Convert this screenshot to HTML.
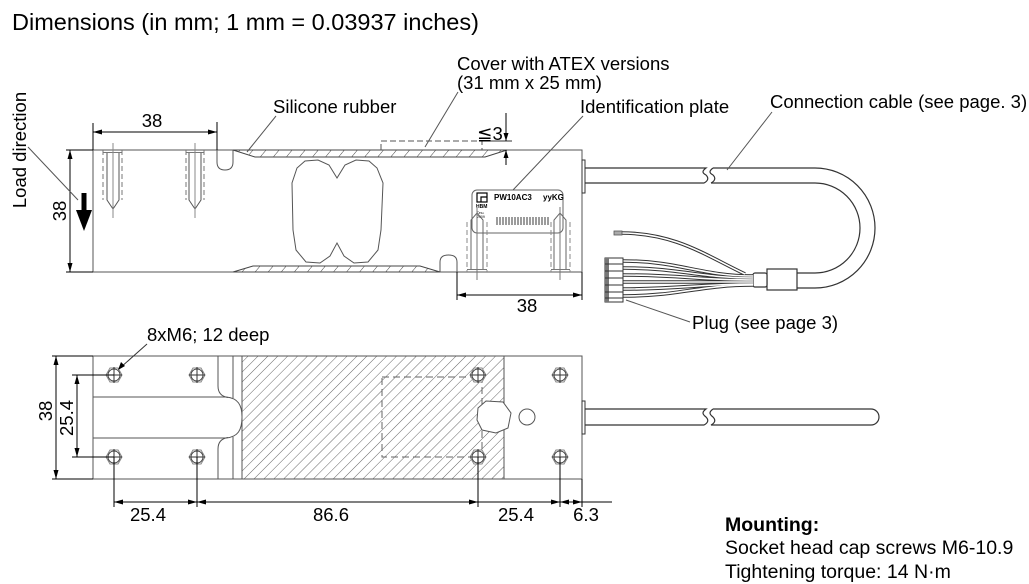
<!DOCTYPE html>
<html><head><meta charset="utf-8"><style>
html,body{margin:0;padding:0;background:#fff;}
svg{display:block;}
text{font-family:"Liberation Sans","DejaVu Sans",Arial,sans-serif;fill:#000;}
</style></head><body>
<svg width="1029" height="584" viewBox="0 0 1029 584" xmlns="http://www.w3.org/2000/svg">
<defs>
<pattern id="hb" width="7" height="7" patternUnits="userSpaceOnUse" patternTransform="rotate(45)"><line x1="0" y1="0" x2="0" y2="7" stroke="#666" stroke-width="1"/></pattern>
<pattern id="hs" width="10" height="10" patternUnits="userSpaceOnUse" patternTransform="rotate(40)"><line x1="0" y1="0" x2="0" y2="10" stroke="#444" stroke-width="1"/></pattern>
</defs>

<!-- Title -->
<text x="12" y="30" font-size="23.5">Dimensions (in mm; 1 mm = 0.03937 inches)</text>

<!-- ================= TOP VIEW ================= -->
<g fill="none" stroke="#555" stroke-width="1">
  <rect x="93" y="150" width="489" height="122"/>
  <path d="M217,150 V162 Q217,170 225,170 Q233,170 233,162 V150" />
  <path d="M440,272 V262 Q440,255 448.5,255 Q457,255 457,262 V272" />
  <polygon points="337,178 329,165 318,160 305,161 297,168 292,183 293,230 296,250 306,262 320,263 330,256 337,243 344,256 354,263 368,262 378,250 381,230 383,183 377,168 369,161 356,160 345,165"/>
</g>
<polygon points="233,150 255,157 485,157 507,150" fill="url(#hs)" stroke="#444" stroke-width="1"/>
<polygon points="233,272 253,266 420,266 440,272" fill="url(#hs)" stroke="#444" stroke-width="1"/>

<g fill="none" stroke-width="1">
  <g>
    <line x1="103" y1="150" x2="103" y2="200" stroke="#777" stroke-dasharray="5,3"/>
    <line x1="122" y1="150" x2="122" y2="200" stroke="#777" stroke-dasharray="5,3"/>
    <path d="M107,152 V200 L113,209 L119,200 V152" stroke="#555"/>
    <line x1="103" y1="152.5" x2="122" y2="152.5" stroke="#777"/>
    <line x1="113" y1="143" x2="113" y2="218" stroke="#888"/>
  </g>
  <g>
    <line x1="186" y1="150" x2="186" y2="200" stroke="#777" stroke-dasharray="5,3"/>
    <line x1="204" y1="150" x2="204" y2="200" stroke="#777" stroke-dasharray="5,3"/>
    <path d="M189,152 V200 L195,209 L201,200 V152" stroke="#555"/>
    <line x1="186" y1="152.5" x2="204" y2="152.5" stroke="#777"/>
    <line x1="195" y1="143" x2="195" y2="218" stroke="#888"/>
  </g>
</g>

<!-- ID plate -->
<rect x="472" y="190" width="91" height="43" rx="5" ry="5" fill="#fff" stroke="#666" stroke-width="1"/>
<rect x="477" y="193" width="10" height="9" fill="#fff" stroke="#000" stroke-width="1.2"/>
<path d="M481,202 V197 H487" fill="none" stroke="#000" stroke-width="1.2"/>
<text x="476" y="208" font-size="5" font-weight="bold">HBM</text>
<text x="494" y="200" font-size="8" font-weight="bold">PW10AC3</text>
<text x="543" y="200" font-size="8" font-weight="bold">yyKG</text>
<text x="477" y="214" font-size="3.5">Dnu.</text>
<text x="477" y="218" font-size="3.5">2009</text>
<g stroke="#666" stroke-width="1.3">
  <line x1="497" y1="217" x2="497" y2="225"/><line x1="500" y1="217" x2="500" y2="225"/><line x1="503" y1="217" x2="503" y2="225"/><line x1="506" y1="217" x2="506" y2="225"/><line x1="509" y1="217" x2="509" y2="225"/><line x1="512" y1="217" x2="512" y2="225"/><line x1="515" y1="217" x2="515" y2="225"/><line x1="518" y1="217" x2="518" y2="225"/><line x1="521" y1="217" x2="521" y2="225"/><line x1="524" y1="217" x2="524" y2="225"/><line x1="527" y1="217" x2="527" y2="225"/><line x1="530" y1="217" x2="530" y2="225"/><line x1="533" y1="217" x2="533" y2="225"/><line x1="536" y1="217" x2="536" y2="225"/><line x1="539" y1="217" x2="539" y2="225"/><line x1="542" y1="217" x2="542" y2="225"/><line x1="545" y1="217" x2="545" y2="225"/><line x1="548" y1="217" x2="548" y2="225"/>
</g>

<g fill="none" stroke-width="1">
  <g>
    <line x1="467" y1="222" x2="467" y2="272" stroke="#888" stroke-dasharray="5,3"/>
    <line x1="487" y1="222" x2="487" y2="272" stroke="#888" stroke-dasharray="5,3"/>
    <path d="M471,270 V220 L477,213 L483,220 V270" stroke="#666"/>
    <line x1="467" y1="269.5" x2="487" y2="269.5" stroke="#777"/>
    <line x1="477" y1="207" x2="477" y2="280" stroke="#777"/>
  </g>
  <g>
    <line x1="551" y1="222" x2="551" y2="272" stroke="#888" stroke-dasharray="5,3"/>
    <line x1="570" y1="222" x2="570" y2="272" stroke="#888" stroke-dasharray="5,3"/>
    <path d="M554,270 V220 L560,213 L566,220 V270" stroke="#666"/>
    <line x1="551" y1="269.5" x2="570" y2="269.5" stroke="#777"/>
    <line x1="560" y1="207" x2="560" y2="280" stroke="#777"/>
  </g>
</g>

<!-- Cover dashed -->
<path d="M381,150 V141 H482 V150" fill="none" stroke="#555" stroke-width="1" stroke-dasharray="6,3"/>
<line x1="482" y1="141" x2="512" y2="141" stroke="#333" stroke-width="1"/>
<line x1="506" y1="113" x2="506" y2="141" stroke="#000" stroke-width="1"/>
<line x1="506" y1="150" x2="506" y2="165" stroke="#000" stroke-width="1"/>
<polygon points="506,141 503.5,133 508.5,133" fill="#000"/>
<polygon points="506,150 503.5,158 508.5,158" fill="#000"/>
<text x="477" y="140" font-size="18.5">≦3</text>

<g stroke="#000" stroke-width="1" fill="none">
  <line x1="93" y1="123" x2="93" y2="150"/>
  <line x1="217" y1="122" x2="217" y2="150"/>
  <line x1="93" y1="132" x2="217" y2="132"/>
  <line x1="66" y1="150" x2="93" y2="150"/>
  <line x1="66" y1="272" x2="93" y2="272"/>
  <line x1="70" y1="150" x2="70" y2="272"/>
  <line x1="457" y1="272" x2="457" y2="300"/>
  <line x1="582" y1="272" x2="582" y2="300"/>
  <line x1="457" y1="295" x2="582" y2="295"/>
</g>
<g fill="#000">
  <polygon points="93,132 102,129.5 102,134.5"/>
  <polygon points="217,132 208,129.5 208,134.5"/>
  <polygon points="70,150 67.5,159 72.5,159"/>
  <polygon points="70,272 67.5,263 72.5,263"/>
  <polygon points="457,295 466,292.5 466,297.5"/>
  <polygon points="582,295 573,292.5 573,297.5"/>
</g>
<text x="152" y="127" font-size="18.5" text-anchor="middle">38</text>
<text x="527" y="312" font-size="18.5" text-anchor="middle">38</text>
<text transform="translate(66,211) rotate(-90)" font-size="18.5" text-anchor="middle">38</text>
<text transform="translate(26,150) rotate(-90)" font-size="18.5" text-anchor="middle">Load direction</text>
<line x1="28" y1="147" x2="78" y2="200" stroke="#555" stroke-width="1"/>
<rect x="81.5" y="193" width="5" height="19" fill="#000"/>
<polygon points="76,210 92,210 84,231" fill="#000"/>

<!-- Cable top view -->
<rect x="582" y="160" width="3" height="33" fill="#fff" stroke="#333" stroke-width="1"/>
<g fill="none" stroke="#333" stroke-width="1.2">
  <path d="M585,168 H706 c-4,3 -4,5 0,7 c3,3 2,6 -2,8 H585"/>
  <path d="M713,168 c-4,3 -4,5 0,7 c3,3 2,6 -2,8"/>
  <path d="M713,168 H815 A60,60 0 0 1 815,288 H797"/>
  <path d="M711,183 H815 A45,45 0 0 1 815,273 H797"/>
</g>
<rect x="767" y="269" width="30" height="21" fill="#fff" stroke="#333" stroke-width="1.2"/>
<rect x="753" y="273" width="14" height="14" rx="2" fill="#fff" stroke="#333" stroke-width="1.2"/>
<g fill="none">
  <g stroke="#333" stroke-width="3.6">
    <path d="M745,274 C705,255 675,233 621,233"/>
    <path d="M623,261 C680,261 700,276 753,276"/>
    <path d="M623,268 C680,268 700,278 753,278"/>
    <path d="M623,275 C680,275 700,280 753,280"/>
    <path d="M623,282 C680,282 700,282 753,282"/>
    <path d="M623,289 C680,289 700,284 753,284"/>
    <path d="M623,296 C680,296 700,285 753,285"/>
  </g>
  <g stroke="#fff" stroke-width="1.6">
    <path d="M745,274 C705,255 675,233 621,233"/>
    <path d="M623,261 C680,261 700,276 753,276"/>
    <path d="M623,268 C680,268 700,278 753,278"/>
    <path d="M623,275 C680,275 700,280 753,280"/>
    <path d="M623,282 C680,282 700,282 753,282"/>
    <path d="M623,289 C680,289 700,284 753,284"/>
    <path d="M623,296 C680,296 700,285 753,285"/>
  </g>
</g>
<rect x="614" y="231" width="8" height="4" fill="#aaa" stroke="#555" stroke-width="0.8"/>
<rect x="605" y="258" width="18" height="44" fill="#fff" stroke="#333" stroke-width="1"/>
<rect x="605" y="258" width="4" height="44" fill="#777"/>
<g stroke="#333" stroke-width="1">
  <line x1="605" y1="264" x2="623" y2="264"/><line x1="605" y1="271" x2="623" y2="271"/><line x1="605" y1="278" x2="623" y2="278"/><line x1="605" y1="285" x2="623" y2="285"/><line x1="605" y1="292" x2="623" y2="292"/><line x1="605" y1="298" x2="623" y2="298"/>
</g>

<g stroke="#555" stroke-width="1">
  <line x1="276" y1="116" x2="247" y2="152"/>
  <line x1="458" y1="92" x2="425" y2="147"/>
  <line x1="583" y1="116" x2="513" y2="190"/>
  <line x1="772" y1="112" x2="727" y2="170"/>
  <line x1="690" y1="322" x2="626" y2="300"/>
</g>
<text x="273" y="113" font-size="18.5">Silicone rubber</text>
<text x="457" y="70" font-size="18.5">Cover with ATEX versions</text>
<text x="457" y="89" font-size="18.5">(31 mm x 25 mm)</text>
<text x="580" y="113" font-size="18.5">Identification plate</text>
<text x="770" y="108" font-size="18.5">Connection cable (see page. 3)</text>
<text x="692" y="329" font-size="18.5">Plug (see page 3)</text>

<!-- ================= BOTTOM VIEW ================= -->
<rect x="242" y="356" width="262" height="123" fill="url(#hb)" stroke="none"/>
<g fill="none" stroke="#555" stroke-width="1">
  <rect x="93" y="356" width="489" height="123"/>
  <line x1="242" y1="356" x2="242" y2="479"/>
  <line x1="504" y1="356" x2="504" y2="479"/>
  <path d="M93,397 H226 C238,398 242,405 242,417 C242,430 238,437 226,438 H93"/>
  <path d="M218,356 V386 Q218,396 228,397.5"/>
  <path d="M218,479 V449 Q218,439 228,437.5"/>
  <line x1="233" y1="356" x2="233" y2="398"/>
  <line x1="233" y1="437" x2="233" y2="479"/>
</g>
<rect x="382" y="377" width="100" height="80" fill="none" stroke="#666" stroke-width="1" stroke-dasharray="7,4"/>
<polygon points="478,408 486,401 503,402 511,413 508,428 496,433 482,430 477,420" fill="#fff" stroke="#555" stroke-width="1"/>
<circle cx="527" cy="417" r="8" fill="#fff" stroke="#555" stroke-width="1"/>
<g fill="#fff" stroke-width="1">
  <g transform="translate(114,375)"><polygon points="8,0 4,7 -4,7 -8,0 -4,-7 4,-7" stroke="#888"/><circle r="6" stroke="#444"/><path d="M-8,0 H8 M0,-8 V8" stroke="#333"/></g>
  <g transform="translate(114,457)"><polygon points="8,0 4,7 -4,7 -8,0 -4,-7 4,-7" stroke="#888"/><circle r="6" stroke="#444"/><path d="M-8,0 H8 M0,-8 V8" stroke="#333"/></g>
  <g transform="translate(197,375)"><polygon points="8,0 4,7 -4,7 -8,0 -4,-7 4,-7" stroke="#888"/><circle r="6" stroke="#444"/><path d="M-8,0 H8 M0,-8 V8" stroke="#333"/></g>
  <g transform="translate(197,457)"><polygon points="8,0 4,7 -4,7 -8,0 -4,-7 4,-7" stroke="#888"/><circle r="6" stroke="#444"/><path d="M-8,0 H8 M0,-8 V8" stroke="#333"/></g>
  <g transform="translate(478,375)"><polygon points="8,0 4,7 -4,7 -8,0 -4,-7 4,-7" stroke="#888"/><circle r="6" stroke="#444"/><path d="M-8,0 H8 M0,-8 V8" stroke="#333"/></g>
  <g transform="translate(478,457)"><polygon points="8,0 4,7 -4,7 -8,0 -4,-7 4,-7" stroke="#888"/><circle r="6" stroke="#444"/><path d="M-8,0 H8 M0,-8 V8" stroke="#333"/></g>
  <g transform="translate(560,375)"><polygon points="8,0 4,7 -4,7 -8,0 -4,-7 4,-7" stroke="#888"/><circle r="6" stroke="#444"/><path d="M-8,0 H8 M0,-8 V8" stroke="#333"/></g>
  <g transform="translate(560,457)"><polygon points="8,0 4,7 -4,7 -8,0 -4,-7 4,-7" stroke="#888"/><circle r="6" stroke="#444"/><path d="M-8,0 H8 M0,-8 V8" stroke="#333"/></g>
</g>
<rect x="582" y="401" width="3" height="33" fill="#fff" stroke="#333" stroke-width="1"/>
<g fill="none" stroke="#333" stroke-width="1.2">
  <path d="M585,409 H706 c-4,3 -4,5 0,8 c3,3 2,6 -2,8 H585"/>
  <path d="M713,409 H871 A8,8 0 0 1 871,425 H711 c4,-2 5,-5 2,-8 c-4,-3 -4,-5 0,-8"/>
</g>

<g stroke="#000" stroke-width="1" fill="none">
  <line x1="52" y1="356" x2="93" y2="356"/>
  <line x1="52" y1="479" x2="93" y2="479"/>
  <line x1="56" y1="356" x2="56" y2="479"/>
  <line x1="72" y1="375" x2="114" y2="375"/>
  <line x1="72" y1="457" x2="114" y2="457"/>
  <line x1="77" y1="375" x2="77" y2="457"/>
  <line x1="114" y1="457" x2="114" y2="507"/>
  <line x1="197" y1="457" x2="197" y2="507"/>
  <line x1="478" y1="457" x2="478" y2="507"/>
  <line x1="560" y1="457" x2="560" y2="507"/>
  <line x1="582" y1="479" x2="582" y2="507"/>
  <line x1="114" y1="502" x2="612" y2="502"/>
</g>
<g fill="#000">
  <polygon points="56,356 53.5,365 58.5,365"/>
  <polygon points="56,479 53.5,470 58.5,470"/>
  <polygon points="77,375 74.5,384 79.5,384"/>
  <polygon points="77,457 74.5,448 79.5,448"/>
  <polygon points="114,502 123,499.5 123,504.5"/>
  <polygon points="197,502 188,499.5 188,504.5"/>
  <polygon points="197,502 206,499.5 206,504.5"/>
  <polygon points="478,502 469,499.5 469,504.5"/>
  <polygon points="560,502 551,499.5 551,504.5"/>
  <polygon points="560,502 569,499.5 569,504.5"/>
  <polygon points="582,502 573,499.5 573,504.5"/>
</g>
<text transform="translate(52,411) rotate(-90)" font-size="18.5" text-anchor="middle">38</text>
<text transform="translate(73,418) rotate(-90)" font-size="18.5" text-anchor="middle">25.4</text>
<text x="148" y="521" font-size="18.5" text-anchor="middle">25.4</text>
<text x="331" y="521" font-size="18.5" text-anchor="middle">86.6</text>
<text x="516" y="521" font-size="18.5" text-anchor="middle">25.4</text>
<text x="586" y="521" font-size="18.5" text-anchor="middle">6.3</text>

<line x1="147" y1="344" x2="120" y2="368" stroke="#333" stroke-width="1"/>
<polygon points="118,370 121,362 125,366" fill="#000"/>
<text x="147" y="341" font-size="18.5">8xM6; 12 deep</text>

<text x="725" y="531" font-size="19.5" font-weight="bold">Mounting:</text>
<text x="725" y="554" font-size="19.5">Socket head cap screws M6-10.9</text>
<text x="725" y="578" font-size="19.5">Tightening torque: 14 N·m</text>
</svg>
</body></html>
